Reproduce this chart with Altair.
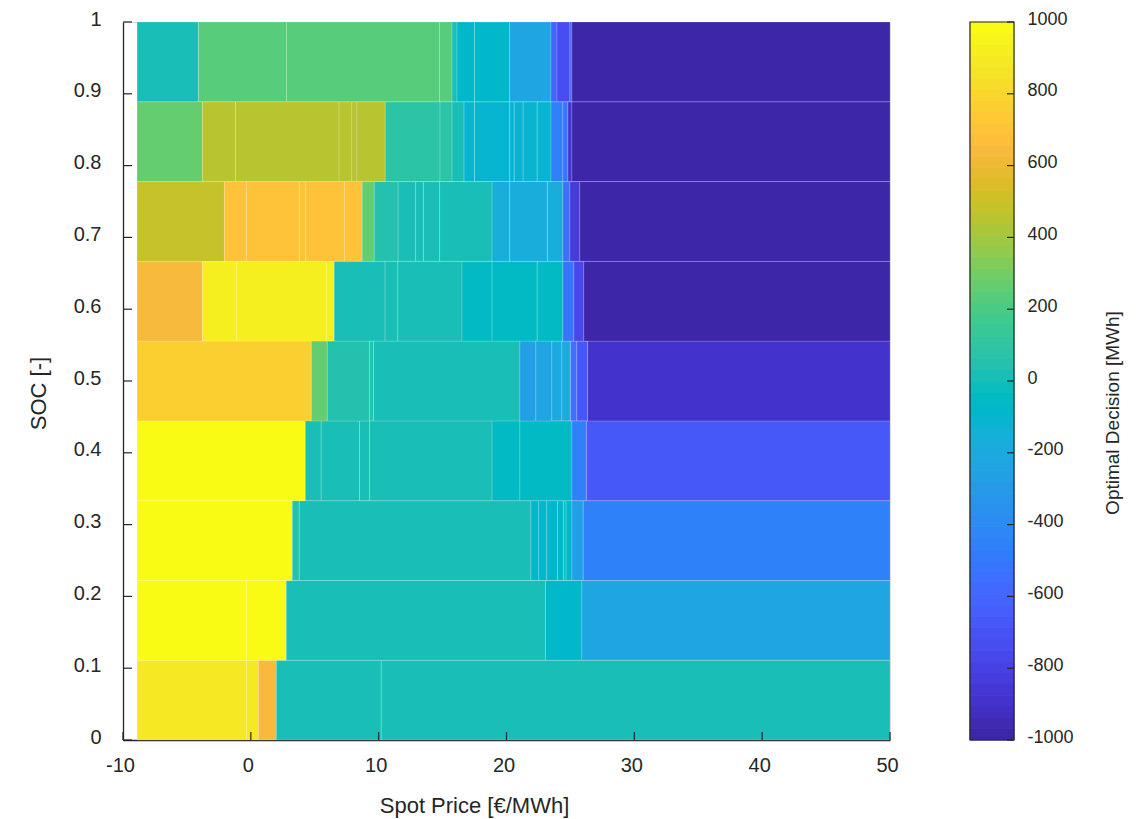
import altair as alt
import pandas as pd

# SOC band edges (9 equal bands between 0 and 1)
SOC_EDGES = [0, 1 / 9, 2 / 9, 3 / 9, 4 / 9, 5 / 9, 6 / 9, 7 / 9, 8 / 9, 1]

# Price breakpoints [€/MWh] and optimal decision [MWh] for each SOC band, bottom to top
BAND0_PRICES = [-8.9, -0.35, 0.59, 1.99, 10.2, 50]
BAND0_DECISIONS = [890, 890, 640, 15, 15]

BAND1_PRICES = [-8.9, -0.35, 2.77, 23.05, 25.9, 50]
BAND1_DECISIONS = [990, 990, 15, -78, -235]

BAND2_PRICES = [-8.9, 3.24, 3.79, 21.91, 22.53, 23.15, 24.0, 24.45, 24.66, 25.12, 26.0, 50]
BAND2_DECISIONS = [990, 47, 15, -78, -78, -78, -78, -16, -78, -266, -453]

BAND3_PRICES = [-8.9, 4.26, 5.5, 8.5, 9.3, 18.87, 21.05, 25.12, 26.25, 50]
BAND3_DECISIONS = [990, 15, 15, 15, 15, -47, -47, -453, -672]

BAND4_PRICES = [-8.9, 4.73, 5.98, 9.3, 9.6, 21.05, 22.3, 23.55, 24.33, 25.0, 25.5, 26.35, 50]
BAND4_DECISIONS = [766, 266, 47, 47, 15, -266, -234, -203, -172, -547, -672, -891]

BAND5_PRICES = [-8.9, -3.79, -1.1, 5.9, 6.52, 10.5, 11.5, 16.52, 18.87, 22.4, 24.41, 25.27, 26.05, 50]
BAND5_DECISIONS = [640, 922, 922, 922, 15, 15, 15, -47, -47, -47, -516, -766, -1000]

BAND6_PRICES = [-8.9, -2.07, -0.35, 3.79, 4.3, 7.34, 8.71, 9.65, 11.52, 12.9, 13.5, 14.77,
                18.87, 20.25, 23.2, 24.41, 24.96, 25.74, 50]
BAND6_DECISIONS = [484, 703, 703, 703, 703, 703, 266, 47, 15, 15, 15, 15,
                   -172, -172, -172, -547, -828, -1000]

BAND7_PRICES = [-8.9, -3.79, -1.2, 6.9, 7.9, 8.3, 10.51, 14.8, 15.74, 16.68, 17.5, 20.25,
                20.6, 21.3, 22.4, 23.48, 24.41, 24.8, 25.12, 50]
BAND7_DECISIONS = [266, 453, 453, 453, 453, 453, 78, 78, 15, -109, -109, -109,
                   -109, -109, -109, -453, -516, -859, -1000]

BAND8_PRICES = [-8.9, -4.1, 2.8, 14.77, 15.74, 16.13, 17.5, 20.25, 23.48, 23.95, 24.96, 25.12, 50]
BAND8_DECISIONS = [15, 234, 234, 234, 15, -78, -78, -234, -609, -734, -641, -1000]

X_TICKS = [-10, 0, 10, 20, 30, 40, 50]
Y_TICKS = [0, 0.1, 0.2, 0.3, 0.4, 0.5, 0.6, 0.7, 0.8, 0.9, 1]
CBAR_TICKS = [-1000, -800, -600, -400, -200, 0, 200, 400, 600, 800, 1000]

# 64-entry parula colormap
PARULA = [
    "#3E26A8", "#402AB4", "#422EC0", "#4332CB", "#4537D5", "#463CDE", "#4741E5", "#4747EB",
    "#484DF0", "#4852F4", "#4758F8", "#465EFB", "#4563FD", "#4269FE", "#3E6FFF", "#3875FE",
    "#327CFC", "#2F81FA", "#2E87F7", "#2D8CF3", "#2B91EF", "#2796EB", "#259BE8", "#23A0E5",
    "#20A5E3", "#1CA9DF", "#18ADDB", "#12B1D6", "#08B5D0", "#01B8CA", "#02BAC3", "#0BBDBD",
    "#19BFB6", "#24C1AE", "#2CC4A7", "#31C69F", "#37C897", "#3FCA8E", "#4ACB84", "#57CC7A",
    "#64CD6F", "#72CD64", "#81CC59", "#8FCB4E", "#9DC943", "#ABC739", "#B9C431", "#C5C22A",
    "#D1BF27", "#DCBD29", "#E6BB2D", "#F0BA36", "#F8BA3D", "#FEBE3C", "#FEC338", "#FEC934",
    "#FCCF30", "#FAD62D", "#F7DC2A", "#F5E327", "#F5E924", "#F6EF20", "#F7F51B", "#F9FB15",
]

# colour limits; each colormap entry sits at the centre of its 1/64 slice of the range
CMIN, CMAX = -1000, 1000
step = (CMAX - CMIN) / len(PARULA)
color_domain = [CMIN] + [CMIN + (i + 0.5) * step for i in range(len(PARULA))] + [CMAX]
color_range = [PARULA[0]] + PARULA + [PARULA[-1]]

bands = [
    (BAND0_PRICES, BAND0_DECISIONS), (BAND1_PRICES, BAND1_DECISIONS),
    (BAND2_PRICES, BAND2_DECISIONS), (BAND3_PRICES, BAND3_DECISIONS),
    (BAND4_PRICES, BAND4_DECISIONS), (BAND5_PRICES, BAND5_DECISIONS),
    (BAND6_PRICES, BAND6_DECISIONS), (BAND7_PRICES, BAND7_DECISIONS),
    (BAND8_PRICES, BAND8_DECISIONS),
]

rows = []
for k, (prices, decisions) in enumerate(bands):
    for i, d in enumerate(decisions):
        rows.append({
            "price0": prices[i], "price1": prices[i + 1],
            "soc0": SOC_EDGES[k], "soc1": SOC_EDGES[k + 1],
            "decision": d,
        })
cells = pd.DataFrame(rows)

# one colorbar slice per colormap entry
cbar_slices = pd.DataFrame({
    "lo": [CMIN + i * step for i in range(len(PARULA))],
    "hi": [CMIN + (i + 1) * step for i in range(len(PARULA))],
    "mid": [CMIN + (i + 0.5) * step for i in range(len(PARULA))],
})

FONT = "Liberation Sans"
INK = "#262626"

x_scale = alt.Scale(domain=[-10, 50], nice=False, zero=False)
y_scale = alt.Scale(domain=[0, 1], nice=False, zero=False)
c_scale = alt.Scale(domain=[CMIN, CMAX], nice=False, zero=False)
color_scale = alt.Scale(domain=color_domain, range=color_range, nice=False, zero=False)

x_axis = alt.Axis(values=X_TICKS, labelExpr="'' + datum.value", ticks=False, grid=False,
                  domainColor=INK, domainWidth=1.3, labelFont=FONT, labelFontSize=20,
                  labelColor=INK, labelBaseline="alphabetic", labelPadding=31,
                  labelOffset=-3, labelFlush=False,
                  titleFont=FONT, titleFontSize=22, titleFontWeight="normal",
                  titleColor=INK, titleX=351, titleY=65, titleBaseline="middle",
                  titleAlign="center")
y_axis = alt.Axis(values=Y_TICKS, format="~g", ticks=False, grid=False, domainColor=INK,
                  domainWidth=1.3, labelFont=FONT, labelFontSize=20, labelColor=INK,
                  labelBaseline="alphabetic", labelAlign="right", labelPadding=22,
                  labelOffset=3, labelFlush=False,
                  titleFont=FONT, titleFontSize=22, titleFontWeight="normal",
                  titleColor=INK, titleX=-85, titleY=371, titleAngle=270,
                  titleBaseline="middle", titleAlign="center")
c_axis = alt.Axis(orient="right", offset=124, values=CBAR_TICKS,
                  labelExpr="'' + datum.value", ticks=False, grid=False, domain=False,
                  labelFont=FONT, labelFontSize=18, labelColor=INK,
                  labelBaseline="alphabetic", labelAlign="left", labelPadding=13,
                  labelOffset=2, labelFlush=False, title=None)
X_TITLE = "Spot Price [€/MWh]"
Y_TITLE = "SOC [-]"

surface = alt.Chart(cells).mark_rect(
    stroke="#ffffff", strokeWidth=0.8, strokeOpacity=0.22
).encode(
    x=alt.X("price0:Q", scale=x_scale, title=X_TITLE, axis=x_axis),
    x2="price1:Q",
    y=alt.Y("soc0:Q", scale=y_scale, title=Y_TITLE, axis=y_axis),
    y2="soc1:Q",
    color=alt.Color("decision:Q", scale=color_scale, legend=None),
)

y_tick_marks = alt.Chart(pd.DataFrame({"soc": Y_TICKS})).mark_rule(
    color=INK, strokeWidth=1.2
).encode(
    y=alt.Y("soc:Q", scale=y_scale, axis=None),
    x=alt.value(0), x2=alt.value(9),
)

x_tick_marks = alt.Chart(pd.DataFrame({"price0": X_TICKS})).mark_rule(
    color=INK, strokeWidth=1.2
).encode(
    x=alt.X("price0:Q", scale=x_scale, title=X_TITLE, axis=x_axis),
    y=alt.value(718), y2=alt.value(710),
)

# colorbar to the right of the plot; slices are stroked in their own colour to hide seams
cbar = alt.Chart(cbar_slices).mark_rect(strokeWidth=1).encode(
    y=alt.Y("lo:Q", scale=c_scale, axis=c_axis),
    y2="hi:Q",
    x=alt.value(847), x2=alt.value(891),
    color=alt.Color("mid:Q", scale=color_scale, legend=None),
    stroke=alt.Stroke("mid:Q", scale=color_scale, legend=None),
)

cbar_frame = alt.Chart(pd.DataFrame({"lo": [CMIN], "hi": [CMAX]})).mark_rect(
    filled=False, color=INK, strokeWidth=1.2
).encode(
    y=alt.Y("lo:Q", scale=c_scale, axis=None),
    y2="hi:Q",
    x=alt.value(847), x2=alt.value(891),
)

cbar_ticks = alt.Chart(pd.DataFrame({"val": CBAR_TICKS})).mark_rule(
    color=INK, strokeWidth=1.2
).encode(
    y=alt.Y("val:Q", scale=c_scale, axis=None),
    x=alt.value(884), x2=alt.value(891),
)

cbar_title = alt.Chart(pd.DataFrame({"label": ["Optimal Decision [MWh]"]})).mark_text(
    angle=270, font=FONT, fontSize=19, color=INK, align="center", baseline="middle"
).encode(
    text="label:N", x=alt.value(990), y=alt.value(391),
)

chart = alt.layer(
    surface, y_tick_marks, x_tick_marks, cbar, cbar_frame, cbar_ticks, cbar_title
).resolve_scale(y="independent").properties(
    width=767, height=718,
    autosize=alt.AutoSizeParams(type="none"),
    padding={"left": 123, "top": 22, "right": 254, "bottom": 79},
    background="white",
).configure_view(stroke="#d9d9d9", strokeWidth=1)

chart.save("out.html", embed_options={"renderer": "svg", "actions": False})
